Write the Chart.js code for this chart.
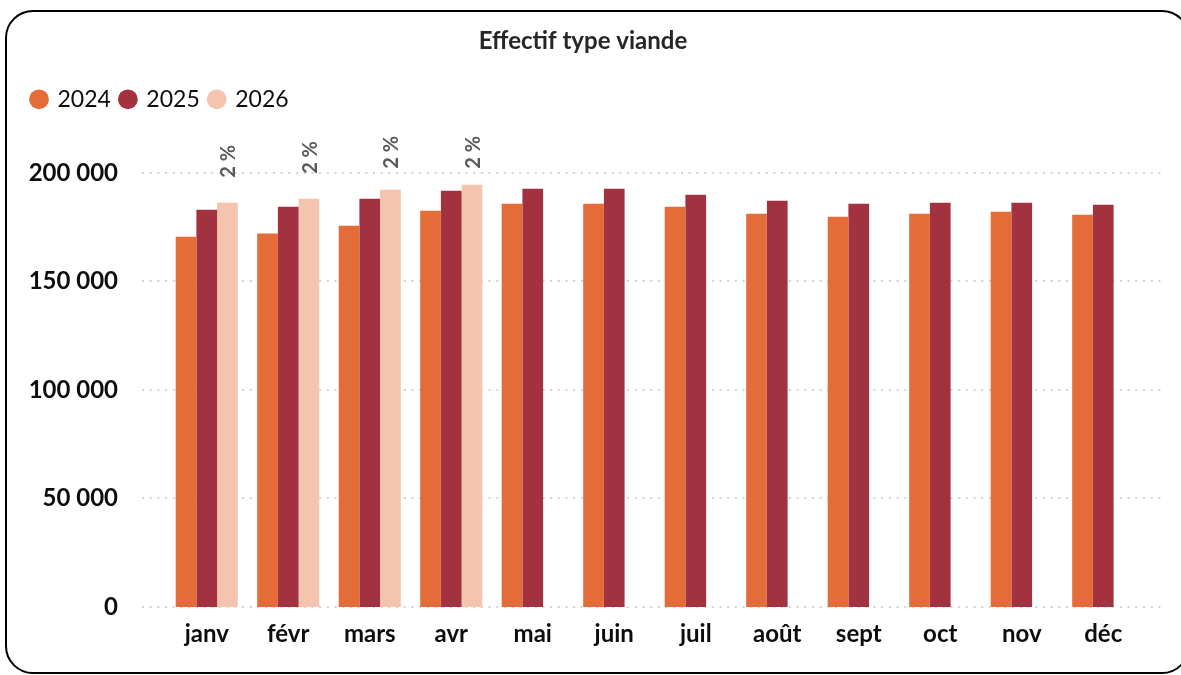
<!DOCTYPE html>
<html>
<head>
<meta charset="utf-8">
<script src="https://cdn.jsdelivr.net/npm/chart.js@4.4.1/dist/chart.umd.min.js"></script>
<style>
    html, body { margin: 0; padding: 0; background: #fff; }
    #wrap { position: relative; width: 1181px; height: 675px; overflow: hidden; }
    #frame {
        position: absolute; left: 5px; top: 10px; width: 1185px; height: 664px;
        box-sizing: border-box; border: 2px solid #000; border-radius: 28px;
        pointer-events: none;
    }
</style>
</head>
<body>
<div id="wrap">
    <canvas id="chart" width="1181" height="675"></canvas>
    <div id="frame"></div>
</div>
<script>
// Données
const months = ['janv', 'févr', 'mars', 'avr', 'mai', 'juin', 'juil', 'août', 'sept', 'oct', 'nov', 'déc'];
const years = ['2024', '2025', '2026'];
const values2024 = [170600, 172000, 175600, 182500, 185700, 185700, 184400, 181100, 179800, 181100, 182100, 180700];
const values2025 = [183000, 184400, 188000, 191700, 192600, 192600, 189900, 187100, 185700, 186200, 186200, 185300];
const values2026 = [186200, 188000, 192200, 194500, null, null, null, null, null, null, null, null];
const pctLabels = ['2 %', '2 %', '2 %', '2 %'];
const yTicks = [0, 50000, 100000, 150000, 200000];

const colors = ['#E46C38', '#A33240', '#F5C4AF'];
const FONT = 'Lato, "Open Sans", sans-serif';

function fmt(v) {
    return String(v).replace(/\B(?=(\d{3})+(?!\d))/g, ' ');
}

// Lignes de grille pointillées (plus larges que la zone des barres)
const dottedGrid = {
    id: 'dottedGrid',
    beforeDatasetsDraw(chart) {
        const { ctx, chartArea } = chart;
        const y = chart.scales.y;
        ctx.save();
        ctx.strokeStyle = '#d4d4d4';
        ctx.lineWidth = 2;
        ctx.setLineDash([2, 5.7]);
        yTicks.forEach(t => {
            const py = Math.round(y.getPixelForValue(t));
            ctx.beginPath();
            ctx.moveTo(chartArea.left - 24, py);
            ctx.lineTo(chartArea.right + 19, py);
            ctx.stroke();
        });
        ctx.restore();
    }
};

// Étiquettes "2 %" verticales au-dessus des barres 2026
const pctLabelsPlugin = {
    id: 'pctLabels',
    afterDatasetsDraw(chart) {
        const { ctx, chartArea } = chart;
        const meta = chart.getDatasetMeta(2);
        ctx.save();
        ctx.font = 'bold 20px ' + FONT;
        ctx.fillStyle = '#595959';
        ctx.textAlign = 'left';
        ctx.textBaseline = 'middle';
        meta.data.forEach((bar, i) => {
            if (values2026[i] == null || !pctLabels[i]) return;
            const w = ctx.measureText(pctLabels[i]).width;
            let start = bar.y - 25;
            const minTop = chartArea.top - 37;
            if (start - w < minTop) start = minTop + w;
            ctx.save();
            ctx.translate(bar.x + 1.5, start);
            ctx.rotate(-Math.PI / 2);
            ctx.fillText(pctLabels[i], 0, 0);
            ctx.restore();
        });
        ctx.restore();
    }
};

// Espace sous la légende
const legendGap = {
    id: 'legendGap',
    beforeLayout(chart) {
        const legend = chart.legend;
        if (!legend || legend._gapPatched) return;
        const fit = legend.fit;
        legend.fit = function () {
            fit.call(this);
            this.height = 95;
        };
        legend._gapPatched = true;
    }
};

new Chart(document.getElementById('chart').getContext('2d'), {
    type: 'bar',
    data: {
        labels: months,
        datasets: [
            { label: years[0], data: values2024, backgroundColor: colors[0] },
            { label: years[1], data: values2025, backgroundColor: colors[1] },
            { label: years[2], data: values2026, backgroundColor: colors[2] }
        ]
    },
    options: {
        responsive: false,
        animation: false,
        categoryPercentage: 0.762,
        barPercentage: 1,
        layout: { padding: { left: 22, right: 37, top: 0, bottom: 0 } },
        scales: {
            x: {
                offset: true,
                grid: { display: false, drawTicks: false },
                border: { display: false },
                ticks: {
                    color: '#0d0d0d',
                    font: { family: FONT, size: 24, weight: 'bold' },
                    padding: 13,
                    maxRotation: 0
                },
                afterFit(scale) { scale.height = 68; }
            },
            y: {
                min: 0,
                max: 200000,
                grid: { display: false, drawTicks: false },
                border: { display: false },
                ticks: {
                    stepSize: 50000,
                    color: '#0d0d0d',
                    font: { family: FONT, size: 24, weight: 'bold' },
                    padding: 48,
                    callback: v => fmt(v)
                },
                afterFit(scale) { scale.width = 144; }
            }
        },
        plugins: {
            title: {
                display: true,
                text: 'Effectif type viande',
                color: '#262626',
                font: { family: FONT, size: 24, weight: 'bold', lineHeight: 1.2 },
                padding: { top: 27, bottom: 22 }
            },
            legend: {
                display: true,
                position: 'top',
                align: 'start',
                labels: {
                    usePointStyle: true,
                    pointStyle: 'circle',
                    boxWidth: 14,
                    boxHeight: 14,
                    padding: 10,
                    color: '#0d0d0d',
                    font: { family: FONT, size: 23 }
                }
            },
            tooltip: { enabled: false }
        }
    },
    plugins: [dottedGrid, pctLabelsPlugin, legendGap]
});
</script>
</body>
</html>
